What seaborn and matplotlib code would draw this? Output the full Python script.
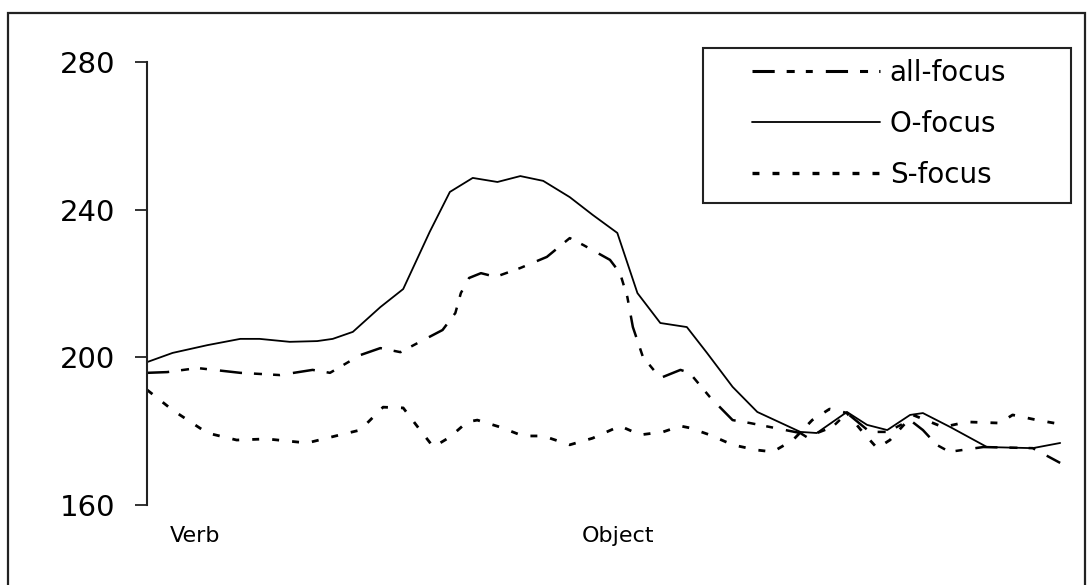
import matplotlib
matplotlib.use("Agg")
import matplotlib.pyplot as plt
import matplotlib.patches as mpatches
from matplotlib.lines import Line2D
import seaborn as sns
import numpy as np

# ---- data (normalised time 0-100, F0 in Hz) ----
t_o = [0, 2.8, 6.6, 10.2, 12.3, 15.6, 18.6, 20.3, 22.5, 25.5, 28.0, 30.9, 33.1, 35.6,
       38.3, 40.8, 43.3, 46.2, 48.7, 51.4, 53.6, 56.1, 59.0, 61.2, 64.0, 66.7, 71.4,
       73.2, 76.5, 78.7, 80.9, 83.4, 84.8, 87.8, 91.8, 96.8, 99.8]
o_focus = [198.7, 201.2, 203.3, 205.0, 205.0, 204.2, 204.4, 205.0, 206.9, 213.6, 218.5,
           234.0, 244.8, 248.6, 247.5, 249.1, 247.8, 243.4, 238.6, 233.7, 217.4, 209.3,
           208.2, 201.2, 192.0, 185.2, 179.8, 179.5, 185.2, 181.7, 180.3, 184.4, 184.9,
           181.1, 175.7, 175.4, 176.8]

t_all = [0, 2.2, 5.5, 10.2, 14.5, 18.1, 20.0, 21.1, 23.3, 25.5, 27.7, 29.6, 32.3, 33.7,
         34.3, 35.2, 36.5, 38.1, 40.8, 43.7, 46.2, 47.7, 50.6, 51.7, 52.5, 53.1, 54.2,
         56.1, 58.3, 59.3, 61.5, 64.0, 65.9, 71.4, 72.1, 74.9, 76.5, 79.0, 80.9, 83.4,
         84.8, 86.3, 87.7, 91.4, 96.8, 99.8]
all_focus = [195.8, 196.0, 197.1, 195.8, 195.2, 196.6, 195.8, 197.4, 200.6, 202.5, 201.4,
             203.9, 207.4, 212.0, 217.4, 221.5, 222.8, 221.8, 224.2, 227.2, 232.3, 230.4,
             226.4, 222.8, 216.3, 208.2, 200.1, 194.4, 196.6, 195.8, 189.3, 183.0, 182.2,
             179.5, 178.4, 181.1, 184.9, 179.8, 179.8, 183.0, 180.3, 176.3, 174.4, 175.7,
             175.4, 171.4]

t_s = [0, 2.8, 6.6, 9.8, 13.1, 17.5, 21.1, 23.3, 25.8, 28.0, 29.6, 31.3, 33.1, 35.0,
       36.1, 38.6, 41.1, 43.3, 46.2, 48.7, 51.7, 53.9, 56.4, 58.3, 59.3, 61.5, 64.0,
       66.6, 68.4, 70.6, 72.7, 74.6, 76.5, 78.2, 79.8, 81.2, 83.7, 87.0, 89.6, 93.2,
       94.6, 97.3, 99.8]
s_focus = [191.2, 185.7, 179.5, 177.6, 177.9, 176.8, 179.0, 180.3, 186.5, 186.3, 181.1,
           175.7, 178.4, 182.5, 183.0, 181.1, 178.7, 178.7, 176.3, 178.1, 181.4, 179.0,
           179.8, 181.4, 180.9, 179.0, 176.3, 174.9, 174.4, 177.6, 183.0, 186.0, 184.9,
           179.8, 175.4, 177.6, 184.4, 181.1, 182.5, 182.2, 184.4, 183.0, 181.9]

series_labels = ["all-focus", "O-focus", "S-focus"]
y_ticks = [160, 200, 240, 280]
x_tick_pos = [5.25, 51.5]
x_tick_labels = ["Verb", "Object"]

# ---- style ----
sns.set_style("white")
plt.rcParams["font.family"] = ["DejaVu Sans"]
plt.rcParams["lines.scale_dashes"] = False
plt.rcParams["text.color"] = "black"
plt.rcParams["xtick.color"] = "black"
plt.rcParams["ytick.color"] = "black"

fig = plt.figure(figsize=(10.92, 5.85), dpi=100)
ax = fig.add_axes([147 / 1092, 1 - 505 / 585, 915 / 1092, 443 / 585])

ls_all = (0, (16, 8.6, 5.8, 8, 5, 9.4))
ls_s = (0, (5, 9.4))

sns.lineplot(x=t_all, y=all_focus, ax=ax, color="black", lw=1.8, linestyle=ls_all)
sns.lineplot(x=t_o, y=o_focus, ax=ax, color="black", lw=1.3, linestyle="-")
sns.lineplot(x=t_s, y=s_focus, ax=ax, color="black", lw=2.0, linestyle=ls_s)

ax.set_xlim(0, 100)
ax.set_ylim(160, 280)
for s in ["top", "right", "bottom"]:
    ax.spines[s].set_visible(False)
ax.spines["left"].set_linewidth(1.5)
ax.spines["left"].set_color("#222222")

ax.set_yticks(y_ticks)
ax.set_yticklabels([str(v) for v in y_ticks])
ax.set_yticks([200, 240, 280], minor=True)
ax.tick_params(axis="y", which="major", direction="out", length=8.6, width=1.3,
               labelsize=21, pad=14, color="#222222", labelcolor="black", left=True)
ax.tick_params(axis="y", which="minor", direction="in", length=12, width=1.3,
               color="#222222", left=True)

ax.set_xticks(x_tick_pos)
ax.set_xticklabels(x_tick_labels)
ax.tick_params(axis="x", length=0, labelsize=16, pad=15, labelcolor="black")
ax.set_xlabel("")
ax.set_ylabel("")

# legend (frame drawn separately)
handles = [
    Line2D([], [], color="black", lw=2.2, linestyle=ls_all),
    Line2D([], [], color="black", lw=1.3, linestyle="-"),
    Line2D([], [], color="black", lw=2.4, linestyle=ls_s),
]
leg = ax.legend(handles, series_labels, loc="upper left",
                bbox_to_anchor=(752 / 1092, 1 - 59 / 585), bbox_transform=fig.transFigure,
                frameon=False, fontsize=20, handlelength=4.6, handletextpad=0.36,
                labelspacing=0.83, borderpad=0, borderaxespad=0)
for txt in leg.get_texts():
    txt.set_color("black")

fig.add_artist(mpatches.Rectangle((703 / 1092, 1 - 203 / 585), 368 / 1092, 155 / 585,
                                  transform=fig.transFigure, fill=False,
                                  edgecolor="#222222", lw=1.5))
# outer frame
fig.add_artist(mpatches.Rectangle((8 / 1092, -0.02), 1077 / 1092, 1.02 - 13 / 585,
                                  transform=fig.transFigure, fill=False,
                                  edgecolor="#222222", lw=1.6))

fig.savefig("out.png", dpi=100)
